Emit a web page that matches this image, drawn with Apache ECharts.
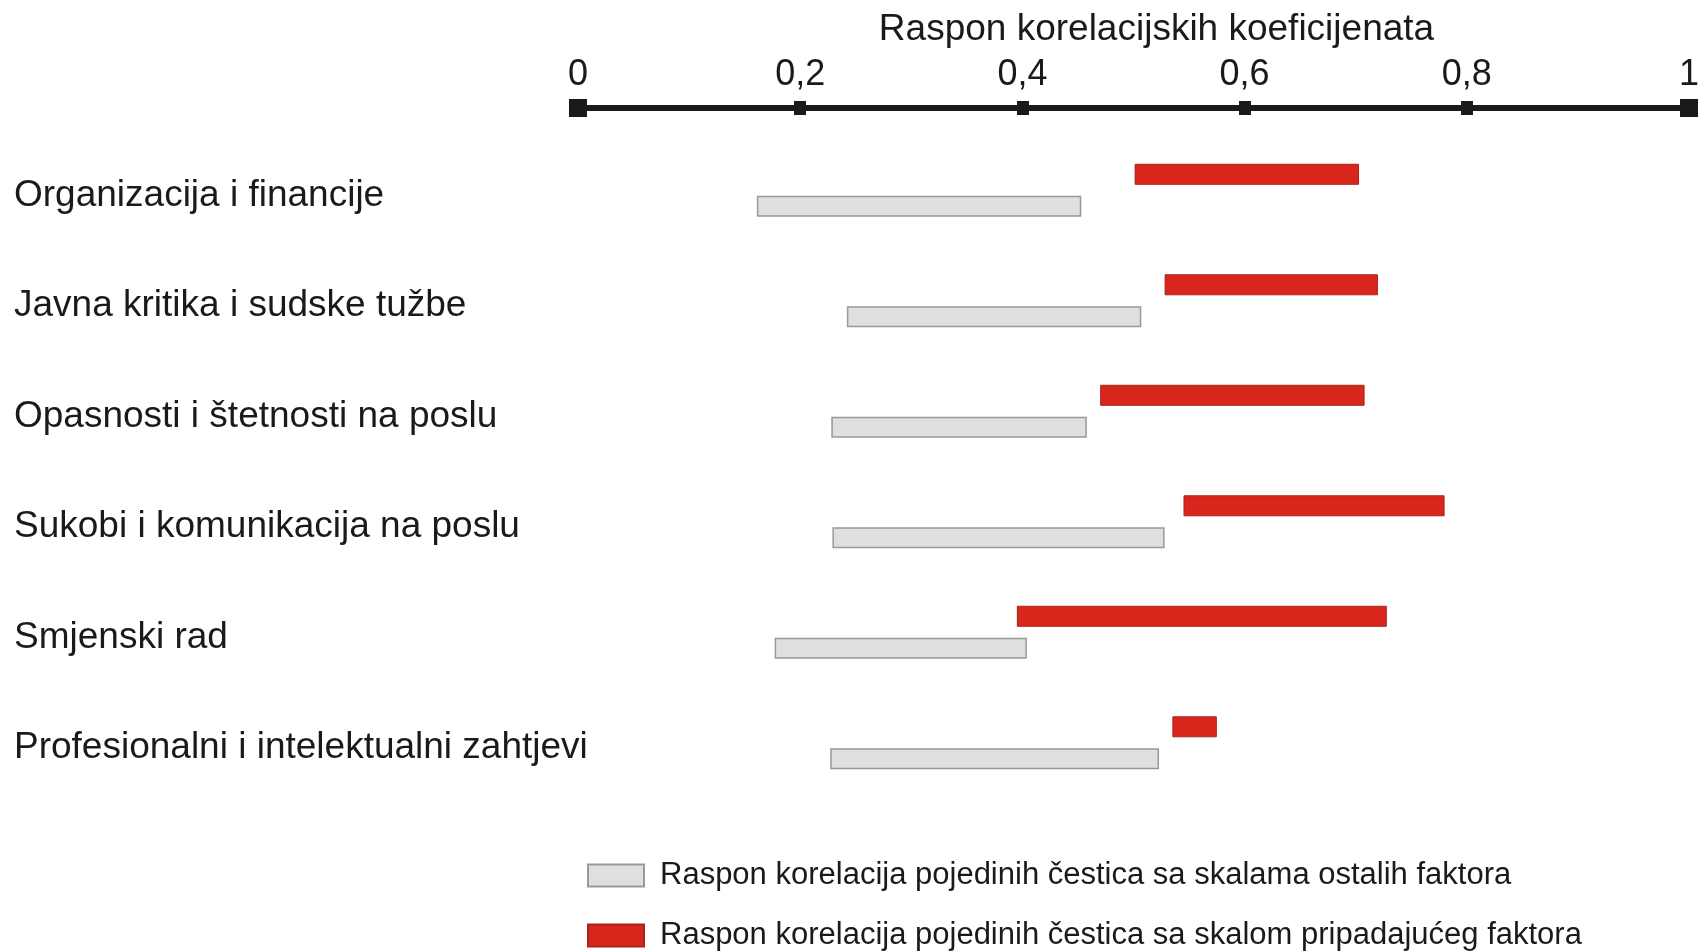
<!DOCTYPE html>
<html>
<head>
<meta charset="utf-8">
<script src="https://cdn.jsdelivr.net/npm/echarts@6/dist/echarts.min.js"></script>
<style>
html,body{margin:0;padding:0;background:#fff;}
#chart{width:1706px;height:952px;}
</style>
</head>
<body>
<div id="chart"></div>
<script>
// ---- data ----
const categories = [
  'Organizacija i financije',
  'Javna kritika i sudske tužbe',
  'Opasnosti i štetnosti na poslu',
  'Sukobi i komunikacija na poslu',
  'Smjenski rad',
  'Profesionalni i intelektualni zahtjevi'
];
const ownStart = [0.501, 0.528, 0.470, 0.545, 0.395, 0.535];
const ownEnd   = [0.703, 0.720, 0.708, 0.780, 0.728, 0.575];
const otherStart = [0.161, 0.242, 0.228, 0.229, 0.177, 0.227];
const otherEnd   = [0.453, 0.507, 0.458, 0.528, 0.404, 0.523];
const xTicks = [0, 0.2, 0.4, 0.6, 0.8, 1];
const nameOther = 'Raspon korelacija pojedinih čestica sa skalama ostalih faktora';
const nameOwn = 'Raspon korelacija pojedinih čestica sa skalom pripadajućeg faktora';
const axisTitle = 'Raspon korelacijskih koeficijenata';

const FONT = "'Liberation Sans', Arial, sans-serif";
const TXT = '#1a1a1a';
const RED = '#d9261c';
const GRAY = '#dfdfdf';

const ownLen = ownEnd.map((v, i) => +(v - ownStart[i]).toFixed(3));
const otherLen = otherEnd.map((v, i) => +(v - otherStart[i]).toFixed(3));

const chart = echarts.init(document.getElementById('chart'), null, {renderer: 'canvas'});
const tickFmt = v => String(+v.toFixed(2)).replace('.', ',');

const legendBase = {
  orient: 'vertical',
  left: 582,
  itemWidth: 56,
  itemHeight: 22,
  icon: 'rect',
  selectedMode: false,
  textStyle: {fontFamily: FONT, fontSize: 31, color: TXT, padding: [0, 0, 0, 11]}
};

const option = {
  animation: false,
  textStyle: {fontFamily: FONT, color: TXT},
  grid: {left: 578, right: 17, top: 135, bottom: 154, containLabel: false},
  legend: [
    Object.assign({}, legendBase, {top: 855, data: [nameOther]}),
    Object.assign({}, legendBase, {top: 915, data: [nameOwn]})
  ],
  xAxis: [{
    type: 'value',
    position: 'top',
    offset: 27,
    min: xTicks[0],
    max: xTicks[xTicks.length - 1],
    interval: 0.2,
    name: axisTitle,
    nameLocation: 'middle',
    nameGap: 60,
    nameTextStyle: {fontFamily: FONT, fontSize: 37, color: TXT, padding: [0, 0, 0, 46]},
    axisLine: {show: true, symbol: ['rect', 'rect'], symbolSize: [18, 18], lineStyle: {color: '#1a1a1a', width: 6}},
    axisTick: {show: true, length: 7, lineStyle: {color: '#1a1a1a', width: 12}},
    axisLabel: {fontFamily: FONT, fontSize: 36, color: TXT, margin: 15, formatter: tickFmt},
    splitLine: {show: false}
  }, {
    type: 'value',
    position: 'top',
    offset: 27,
    min: xTicks[0],
    max: xTicks[xTicks.length - 1],
    interval: 0.2,
    axisLine: {show: false},
    axisTick: {show: true, inside: true, length: 7, lineStyle: {color: '#1a1a1a', width: 12}},
    axisLabel: {show: false},
    splitLine: {show: false}
  }],
  yAxis: {
    type: 'category',
    inverse: true,
    data: categories,
    axisLine: {show: false},
    axisTick: {show: false},
    axisLabel: {
      align: 'left', margin: 564, fontFamily: FONT, fontSize: 37, color: TXT,
      formatter: v => '{c|' + v + '}',
      rich: {c: {fontFamily: FONT, fontSize: 37, color: TXT, padding: [11, 0, 0, 0]}}
    }
  },
  series: [
    {name: 'ownBase', type: 'bar', stack: 'own', data: ownStart, barWidth: 21, barGap: '52%',
     itemStyle: {color: 'rgba(0,0,0,0)'}, silent: true, emphasis: {disabled: true}},
    {name: nameOwn, type: 'bar', stack: 'own', data: ownLen, barWidth: 21, barGap: '52%',
     itemStyle: {color: RED, borderColor: '#a8231b', borderWidth: 1}},
    {name: 'otherBase', type: 'bar', stack: 'other', data: otherStart, barWidth: 21, barGap: '52%',
     itemStyle: {color: 'rgba(0,0,0,0)'}, silent: true, emphasis: {disabled: true}},
    {name: nameOther, type: 'bar', stack: 'other', data: otherLen, barWidth: 21, barGap: '52%',
     itemStyle: {color: GRAY, borderColor: '#999999', borderWidth: 1.5}}
  ]
};
chart.setOption(option);
</script>
</body>
</html>
